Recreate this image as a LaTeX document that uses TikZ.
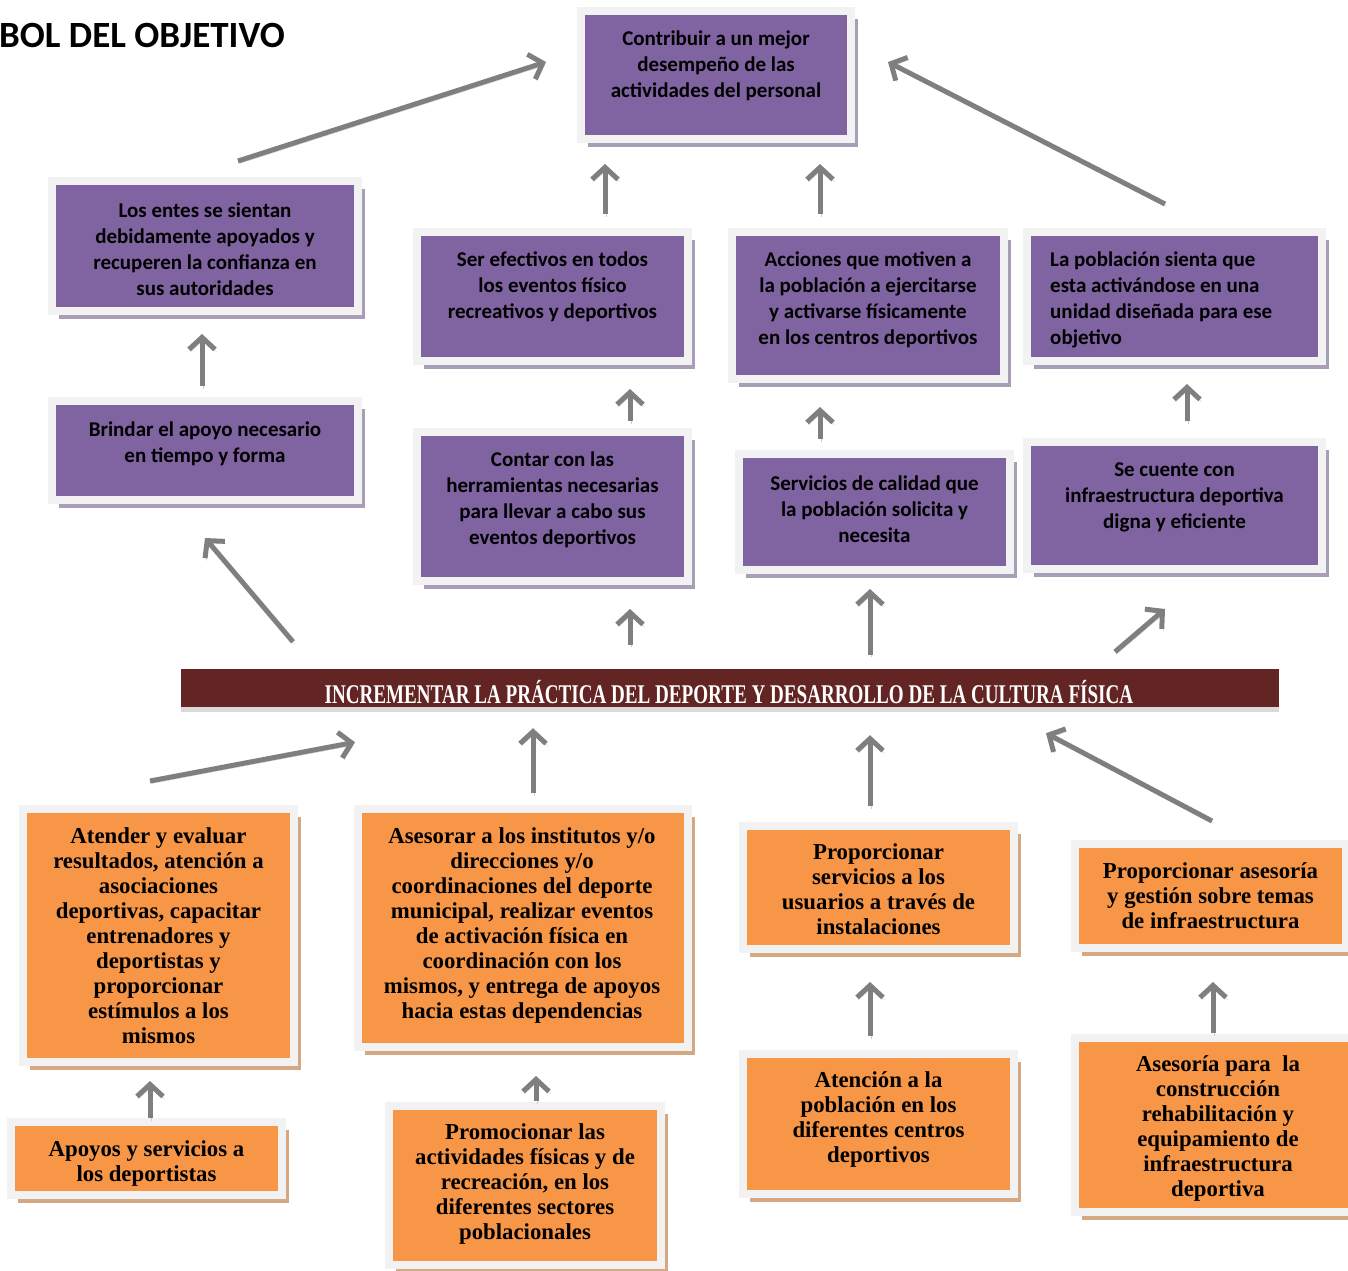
\documentclass[tikz,border=0pt]{standalone}
\usepackage{fontspec}
\usepackage{graphicx}
\setmainfont{Carlito}
\newfontfamily\camb{Liberation Serif}
\usetikzlibrary{arrows.meta,shadows}
\definecolor{purp}{HTML}{8064A2}
\definecolor{orng}{HTML}{F79646}
\definecolor{framegray}{HTML}{F2F2F2}
\definecolor{pshade}{RGB}{168,158,184}
\definecolor{oshade}{RGB}{213,168,132}
\definecolor{wine}{HTML}{632523}
\definecolor{arrgray}{HTML}{7F7F7F}
\definecolor{arrshade}{HTML}{CCCCCC}

\begin{document}
\begin{tikzpicture}[x=1pt,y=-1pt,
  pbox/.style={fill=purp,draw=framegray,line width=8pt,inner sep=0pt,
    drop shadow={shadow xshift=7pt,shadow yshift=-8pt,fill=pshade,opacity=1}},
  obox/.style={fill=orng,draw=framegray,line width=8pt,inner sep=0pt,
    drop shadow={shadow xshift=7pt,shadow yshift=-8pt,fill=oshade,opacity=1}},
  ptxt/.style={font=\bfseries\fontsize{21}{26}\selectfont,align=center,inner sep=0pt},
  otxt/.style={font=\camb\bfseries\fontsize{22.8}{25}\selectfont,align=center,inner sep=0pt},
  arr/.style={draw=arrgray,line width=5pt,-{Straight Barb[length=12pt,width=26pt]},
    preaction={draw=arrshade,transform canvas={shift={(1.5pt,-2.5pt)}}}}]
\useasboundingbox (0,0) rectangle (1348,1270);
\node[font=\bfseries\fontsize{37}{44}\selectfont,anchor=base west,inner sep=0pt] (title) at (-1,47) {BOL DEL OBJETIVO};

% fines
\node[pbox,minimum width=270pt,minimum height=128pt] (fin) at (716,75) {};
\node[ptxt] (fin-t) at (716,66) {Contribuir a un mejor\\desempeño de las\\actividades del personal};
\node[pbox,minimum width=306pt,minimum height=130pt] (entes) at (205,246) {};
\node[ptxt] (entes-t) at (205,249) {Los entes se sientan\\debidamente apoyados y\\recuperen la confianza en\\sus autoridades};
\node[pbox,minimum width=271pt,minimum height=129pt] (efect) at (552.5,296.5) {};
\node[ptxt] (efect-t) at (552.5,287) {Ser efectivos en todos\\los eventos físico\\recreativos y deportivos};
\node[pbox,minimum width=272pt,minimum height=147pt] (acc) at (868,305.5) {};
\node[ptxt] (acc-t) at (868,300) {Acciones que motiven a\\la población a ejercitarse\\y activarse físicamente\\en los centros deportivos};
\node[pbox,minimum width=295pt,minimum height=129pt] (pob) at (1174.5,296.5) {};
\node[ptxt,align=left,anchor=west] (pob-t) at (1050,300) {La población sienta que\\esta activándose en una\\unidad diseñada para ese\\objetivo};

% medios
\node[pbox,minimum width=306pt,minimum height=99pt] (brindar) at (205,450.5) {};
\node[ptxt] (brindar-t) at (205,444) {Brindar el apoyo necesario\\en tiempo y forma};
\node[pbox,minimum width=271pt,minimum height=149pt] (contar) at (552.5,506.5) {};
\node[ptxt] (contar-t) at (552.5,500) {Contar con las\\herramientas necesarias\\para llevar a cabo sus\\eventos deportivos};
\node[pbox,minimum width=271pt,minimum height=116pt] (serv) at (874.5,512) {};
\node[ptxt] (serv-t) at (874.5,509) {Servicios de calidad que\\la población solicita y\\necesita};
\node[pbox,minimum width=295pt,minimum height=127pt] (infra) at (1174.5,505.5) {};
\node[ptxt] (infra-t) at (1174.5,497) {Se cuente con\\infraestructura deportiva\\digna y eficiente};

% objetivo central
\node[fill=wine,minimum width=1098pt,minimum height=38pt,inner sep=0pt,
  drop shadow={shadow xshift=0pt,shadow yshift=-5pt,fill=black!15,opacity=1}] (meta) at (730,688) {};
\begin{scope}
\clip (meta.north west) rectangle (meta.south east);
\node[font=\camb\bfseries\fontsize{27}{30}\selectfont,text=white,anchor=base,inner sep=0pt] (meta-t) at (729,703)
  {\scalebox{0.707}[1]{INCREMENTAR LA PRÁCTICA DEL DEPORTE Y DESARROLLO DE LA CULTURA FÍSICA}};
\end{scope}

% componentes
\node[obox,minimum width=271pt,minimum height=253pt] (atender) at (158.5,935.5) {};
\node[otxt] (atender-t) at (158.5,936) {Atender y evaluar\\resultados, atención a\\asociaciones\\deportivas, capacitar\\entrenadores y\\deportistas y\\proporcionar\\estímulos a los\\mismos};
\node[obox,minimum width=330pt,minimum height=238pt] (asesorar) at (523,928) {};
\node[otxt] (asesorar-t) at (522,925) {Asesorar a los institutos y/o\\direcciones y/o\\coordinaciones del deporte\\municipal, realizar eventos\\de activación física en\\coordinación con los\\mismos, y entrega de apoyos\\hacia estas dependencias};
\node[obox,minimum width=271pt,minimum height=123pt] (proserv) at (878.5,887.5) {};
\node[otxt] (proserv-t) at (878.5,889.5) {Proporcionar\\servicios a los\\usuarios a través de\\instalaciones};
\node[obox,minimum width=271pt,minimum height=104pt] (proase) at (1210.5,896) {};
\node[otxt] (proase-t) at (1210.5,896) {Proporcionar asesoría\\y gestión sobre temas\\de infraestructura};

% actividades
\node[obox,minimum width=271pt,minimum height=73pt] (apoyos) at (146.5,1158.5) {};
\begin{scope}
\clip (apoyos.north west) rectangle ([shift={(0,-12)}]apoyos.south east);
\node[otxt] (apoyos-t) at (146.5,1163.5) {Apoyos y servicios a\\los deportistas};
\end{scope}
\node[obox,minimum width=272pt,minimum height=159pt] (promo) at (525,1185.5) {};
\node[otxt] (promo-t) at (525,1184) {Promocionar las\\actividades físicas y de\\recreación, en los\\diferentes sectores\\poblacionales};
\node[obox,minimum width=271pt,minimum height=140pt] (atencion) at (878.5,1124) {};
\node[otxt] (atencion-t) at (878.5,1119.5) {Atención a la\\población en los\\diferentes centros\\deportivos};
\node[obox,minimum width=286pt,minimum height=174pt] (asesoria) at (1218,1125) {};
\begin{scope}
\clip (asesoria.north west) rectangle ([shift={(0,-14)}]asesoria.south east);
\node[otxt] (asesoria-t) at (1218,1128.5) {Asesoría para~ la\\construcción\\rehabilitación y\\equipamiento de\\infraestructura\\deportiva};
\end{scope}

% flechas
\draw[arr] ([shift={(33,-16)}]entes.north) -- ([shift={(-31,-13)}]fin.west);
\draw[arr] ([shift={(52.5,-14)}]efect.north) -- ([shift={(-111,21)}]fin.south);
\draw[arr] ([shift={(-48,-14)}]acc.north) -- ([shift={(104,21)}]fin.south);
\draw[arr] ([shift={(-9.5,-24)}]pob.north) -- ([shift={(33,-13)}]fin.east);
\draw[arr] ([shift={(-3,-11)}]brindar.north) -- ([shift={(-3,19)}]entes.south);
\draw[arr] ([shift={(77.5,-7)}]contar.north) -- ([shift={(77.5,24)}]efect.south);
\draw[arr] ([shift={(-54.5,-11)}]serv.north) -- ([shift={(-48,24)}]acc.south);
\draw[arr] ([shift={(12.5,-17)}]infra.north) -- ([shift={(12.5,19)}]pob.south);
\draw[arr] ([shift={(-437,-27)}]meta.north) -- ([shift={(0,34)}]brindar.south);
\draw[arr] ([shift={(-100,-24)}]meta.north) -- ([shift={(77.5,24)}]contar.south);
\draw[arr] ([shift={(140,-14)}]meta.north) -- ([shift={(-4.5,15)}]serv.south);
\draw[arr] ([shift={(385,-17)}]meta.north) -- ([shift={(-9.5,36)}]infra.south);
\draw[arr] ([shift={(-8.5,-24)}]atender.north) -- ([shift={(-375,35)}]meta.south);
\draw[arr] ([shift={(10,-12)}]asesorar.north) -- ([shift={(-197,21)}]meta.south);
\draw[arr] ([shift={(-8.5,-16)}]proserv.north) -- ([shift={(140,28)}]meta.south);
\draw[arr] ([shift={(1.5,-19)}]proase.north) -- ([shift={(316,26)}]meta.south);
\draw[arr] ([shift={(3.5,0)}]apoyos.north) -- ([shift={(-8.5,15)}]atender.south);
\draw[arr] ([shift={(11,-1)}]promo.north) -- ([shift={(13,25)}]asesorar.south);
\draw[arr] ([shift={(-8.5,-14)}]atencion.north) -- ([shift={(-8.5,29)}]proserv.south);
\draw[arr] ([shift={(-5,-1)}]asesoria.north) -- ([shift={(2.5,30)}]proase.south);
\end{tikzpicture}
\end{document}
